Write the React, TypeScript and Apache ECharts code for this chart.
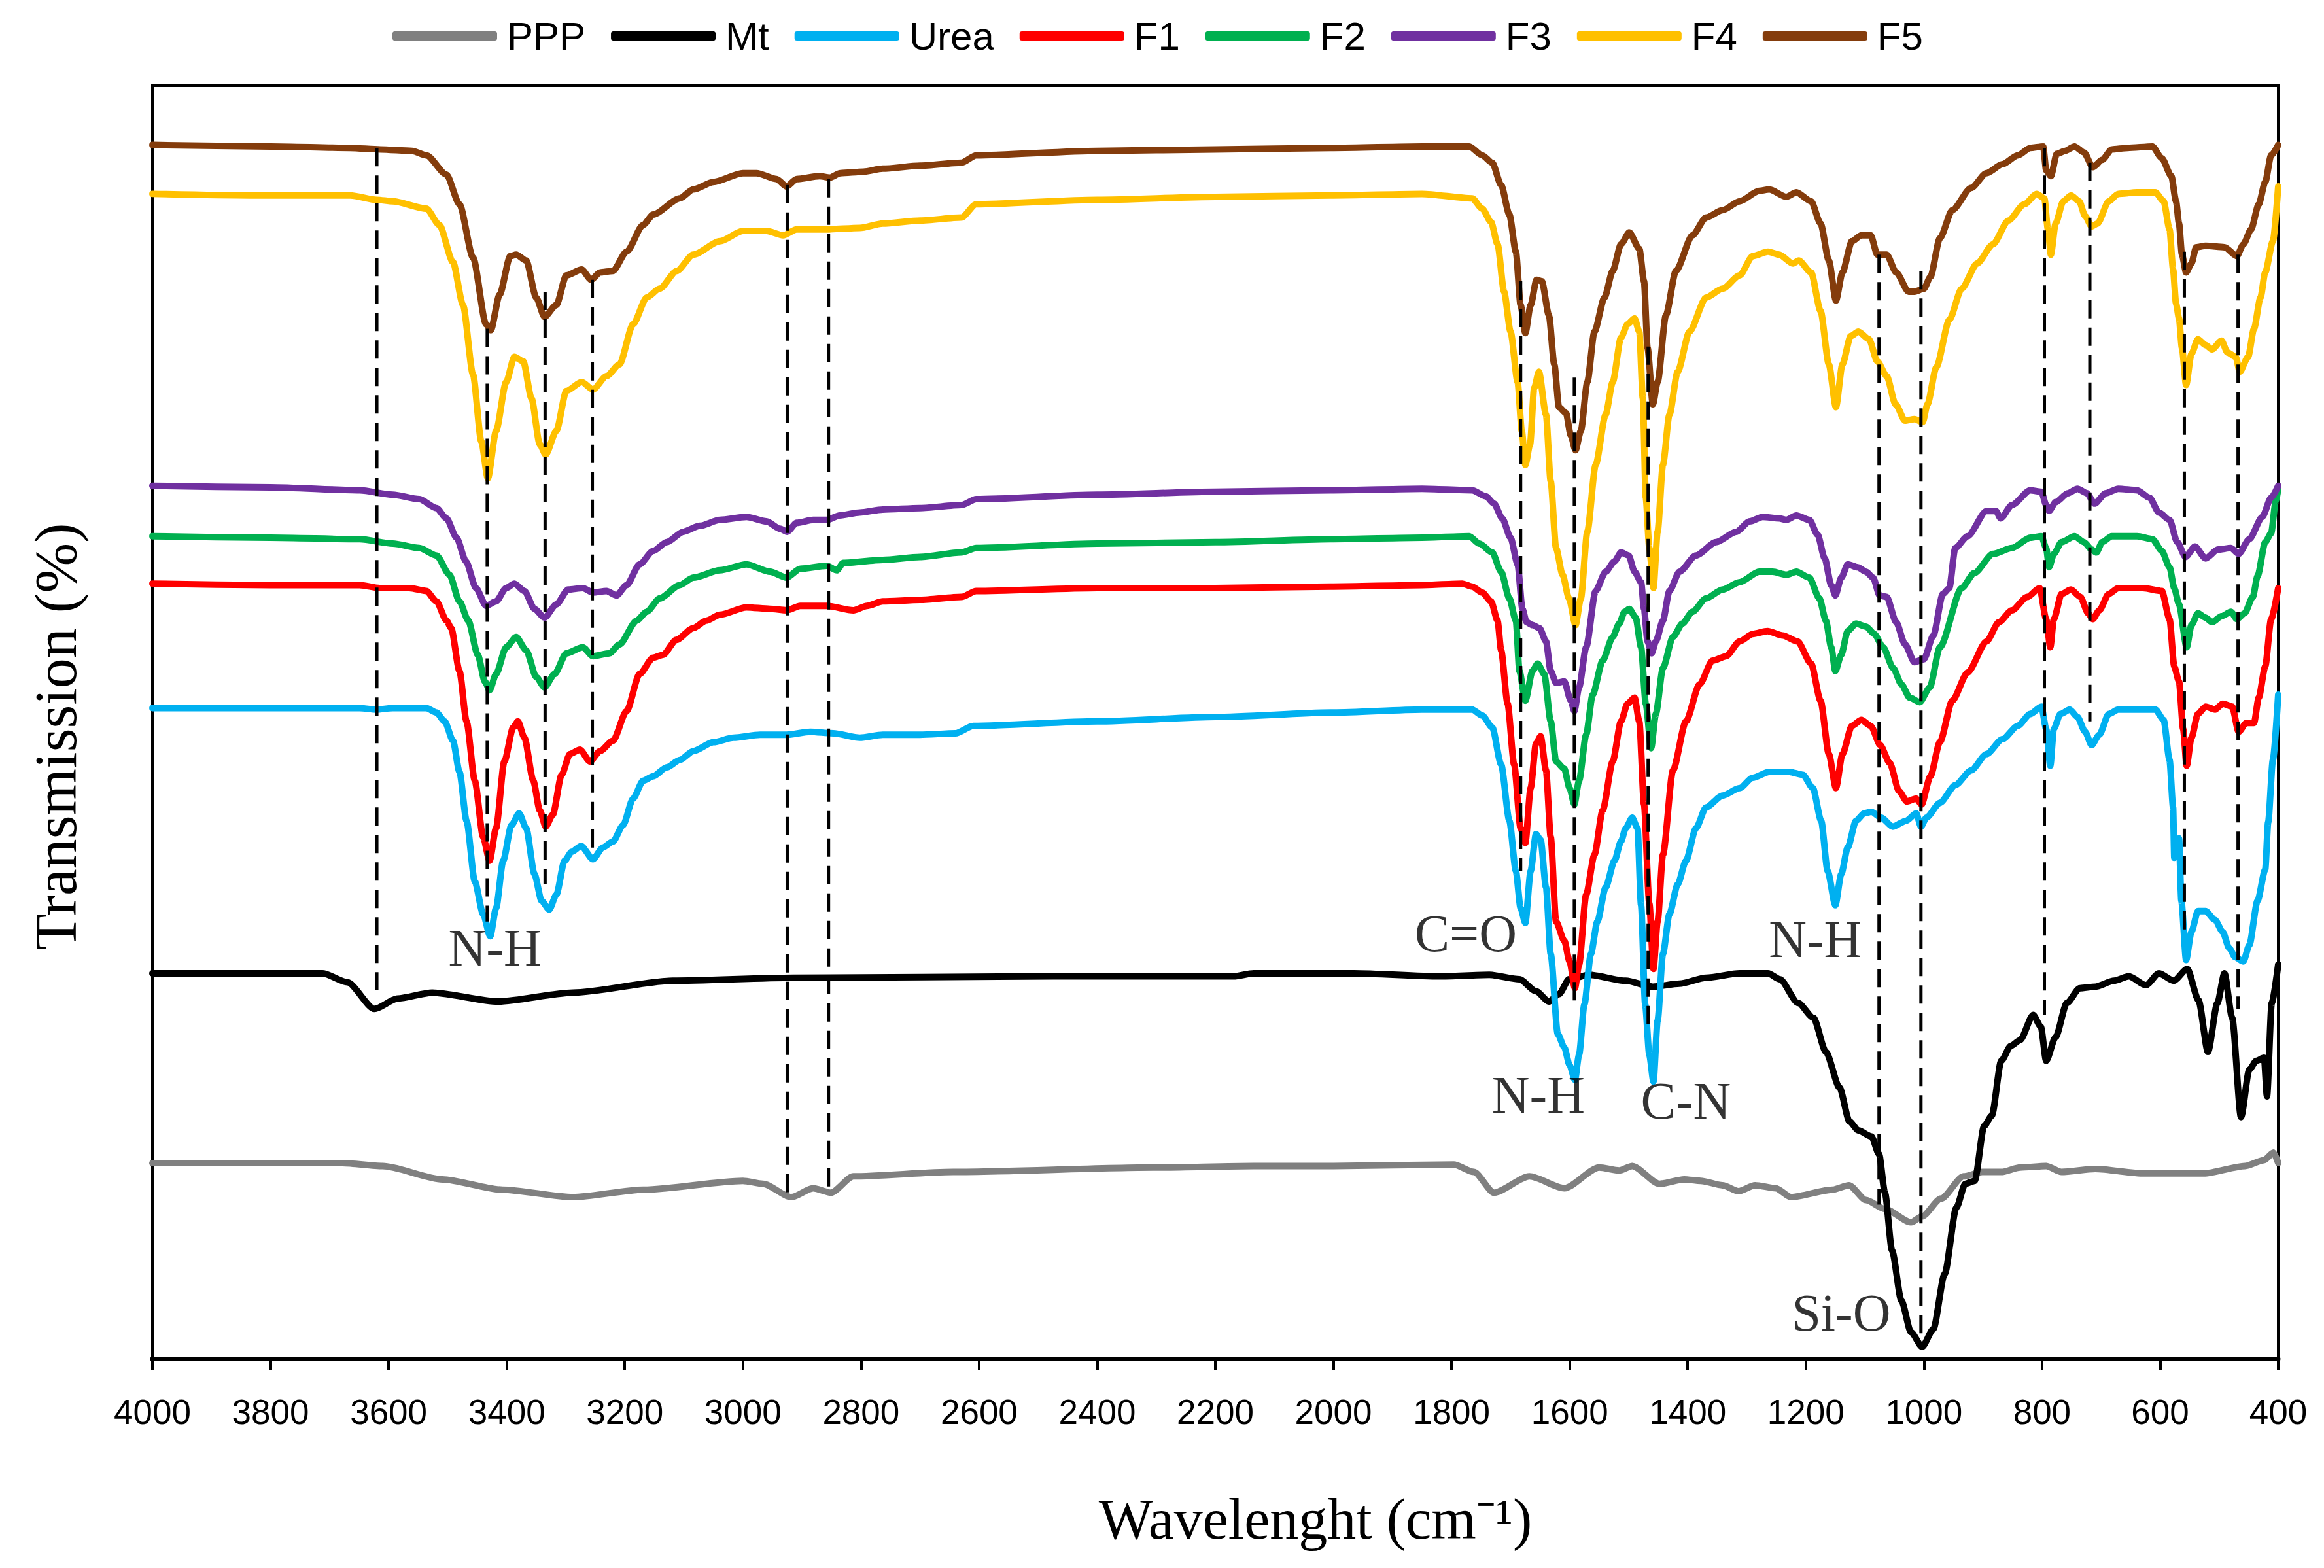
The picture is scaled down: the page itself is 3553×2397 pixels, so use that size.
import React, { useEffect, useRef } from "react";
import * as echarts from "echarts";

// Wavenumber (cm-1) vs relative transmission (arbitrary units, offset stack)
const seriesNames = ["PPP", "Mt", "Urea", "F1", "F2", "F3", "F4", "F5"];
const seriesColors = ["#808080", "#000000", "#00B0F0", "#FF0000", "#00B050", "#7030A0", "#FFC000", "#843C0C"];

const ppp = [[4000,128],[3678,128],[3610,126],[3509,117],[3407,110],[3288,105],[3169,110],[3000,116],[2966,114],[2918,105],[2881,111],[2851,108],[2813,119],[2644,122],[2305,125],[2135,126],[2000,126],[1796,127],[1762,122],[1728,108],[1668,119],[1609,111],[1550,125],[1516,123],[1494,126],[1448,114],[1406,117],[1378,116],[1341,113],[1314,109],[1286,113],[1251,111],[1225,105],[1155,110],[1127,113],[1098,103],[1066,97],[1022,88],[1003,92],[971,104],[933,119],[901,122],[869,122],[837,125],[793,126],[767,122],[710,124],[627,121],[526,121],[456,126],[424,130],[408,135],[400,128]];

const mt = [[4000,256],[3712,256],[3670,250],[3624,232],[3585,239],[3526,243],[3415,237],[3288,243],[3119,251],[2915,253],[2474,254],[2169,254],[2135,256],[1965,256],[1821,254],[1736,255],[1685,252],[1657,244],[1635,237],[1618,242],[1601,252],[1567,255],[1505,251],[1459,247],[1414,249],[1369,253],[1312,256],[1264,256],[1244,252],[1213,236],[1187,226],[1166,203],[1143,179],[1126,156],[1111,150],[1089,146],[1076,134],[1066,108],[1054,69],[1038,35],[1022,14],[1003,4],[984,16],[965,53],[945,98],[930,114],[914,116],[898,153],[885,160],[869,197],[853,207],[837,211],[815,228],[802,220],[793,197],[777,213],[758,236],[736,246],[710,247],[678,251],[653,254],[624,248],[602,256],[577,251],[554,259],[535,238],[519,203],[503,236],[491,256],[478,226],[463,159],[449,191],[437,197],[424,199],[419,173],[411,236],[400,262]];

const urea = [[4000,435],[3800,435],[3649,435],[3621,434],[3593,435],[3536,435],[3519,432],[3505,426],[3491,413],[3480,392],[3468,359],[3454,318],[3440,296],[3428,281],[3418,300],[3406,332],[3392,356],[3379,364],[3367,354],[3353,323],[3341,305],[3328,299],[3316,309],[3302,332],[3290,338],[3274,342],[3254,333],[3237,341],[3220,345],[3203,356],[3186,374],[3169,386],[3152,389],[3129,395],[3107,400],[3084,406],[3050,412],[3016,415],[2971,417],[2926,417],[2886,419],[2847,418],[2802,415],[2763,417],[2700,417],[2640,418],[2610,423],[2400,426],[2200,429],[2000,432],[1850,434],[1765,434],[1748,430],[1731,422],[1716,397],[1702,359],[1691,325],[1683,300],[1675,290],[1666,325],[1657,350],[1649,346],[1640,314],[1632,269],[1620,215],[1609,206],[1600,194],[1591,184],[1584,201],[1575,235],[1564,269],[1553,291],[1539,314],[1524,332],[1513,345],[1505,354],[1494,361],[1485,354],[1479,302],[1472,235],[1465,201],[1458,183],[1451,224],[1442,269],[1431,296],[1417,316],[1403,332],[1386,354],[1369,368],[1341,376],[1312,381],[1290,388],[1262,392],[1228,392],[1205,390],[1188,381],[1174,359],[1163,325],[1150,302],[1140,323],[1129,341],[1115,359],[1101,364],[1089,365],[1072,361],[1053,355],[1030,359],[1013,364],[1005,355],[996,361],[973,371],[947,383],[920,393],[894,404],[867,414],[841,423],[820,431],[801,436],[793,421],[786,396],[780,421],[769,431],[753,434],[740,429],[727,419],[716,410],[703,417],[687,431],[671,434],[639,434],[608,434],[594,427],[584,400],[578,368],[576,334],[568,347],[564,305],[556,265],[547,284],[536,298],[523,298],[507,292],[494,284],[483,273],[473,267],[459,264],[449,275],[435,305],[422,326],[417,358],[409,400],[400,444]];

const f1 = [[4000,519],[3800,518],[3649,518],[3615,516],[3565,516],[3536,514],[3519,507],[3502,494],[3494,489],[3480,460],[3468,426],[3454,386],[3440,348],[3429,332],[3418,354],[3404,399],[3389,422],[3381,426],[3370,415],[3355,386],[3344,366],[3334,355],[3322,363],[3307,390],[3293,404],[3276,407],[3259,399],[3242,406],[3220,413],[3197,433],[3175,458],[3152,469],[3135,471],[3113,481],[3084,489],[3062,494],[3039,498],[2994,503],[2954,502],[2926,501],[2903,504],[2858,504],[2813,501],[2790,504],[2763,507],[2700,508],[2630,510],[2605,514],[2400,516],[2200,516],[2000,517],[1850,518],[1782,519],[1765,517],[1748,513],[1733,507],[1722,494],[1716,474],[1705,438],[1694,397],[1683,354],[1675,344],[1666,381],[1657,411],[1649,416],[1640,393],[1632,348],[1623,291],[1609,278],[1600,264],[1591,246],[1584,262],[1572,309],[1558,336],[1544,366],[1527,399],[1513,426],[1502,438],[1490,442],[1482,426],[1474,370],[1465,303],[1458,259],[1451,291],[1442,336],[1425,393],[1403,426],[1380,451],[1358,467],[1335,470],[1312,480],[1290,485],[1265,487],[1239,484],[1214,480],[1191,465],[1175,440],[1161,404],[1149,381],[1138,404],[1122,423],[1106,427],[1090,423],[1074,410],[1058,398],[1042,379],[1029,372],[1013,374],[1004,370],[989,389],[973,412],[952,440],[926,459],[894,480],[873,493],[851,501],[825,510],[804,516],[793,495],[786,476],[780,495],[767,512],[751,515],[735,510],[722,499],[714,495],[703,501],[687,512],[671,516],[629,516],[597,514],[584,495],[576,463],[568,453],[561,421],[555,396],[547,415],[536,431],[523,436],[507,434],[494,438],[478,436],[467,419],[454,425],[441,425],[433,442],[422,463],[412,495],[400,516]];

const f2 = [[4000,551],[3800,550],[3649,549],[3593,546],[3548,543],[3519,538],[3497,525],[3480,507],[3465,494],[3449,471],[3437,453],[3429,447],[3418,458],[3401,476],[3384,483],[3367,474],[3350,456],[3336,449],[3319,458],[3299,472],[3271,476],[3254,470],[3226,472],[3209,478],[3180,494],[3163,500],[3141,509],[3107,518],[3084,523],[3039,528],[2994,532],[2954,527],[2926,523],[2903,529],[2858,531],[2841,528],[2830,533],[2763,535],[2700,537],[2630,540],[2605,543],[2400,546],[2200,547],[2000,549],[1850,550],[1770,551],[1753,546],[1731,540],[1716,527],[1702,509],[1691,494],[1685,460],[1675,440],[1663,460],[1654,465],[1643,458],[1632,426],[1623,399],[1609,394],[1600,381],[1592,370],[1584,386],[1572,417],[1561,444],[1544,467],[1527,483],[1516,492],[1507,500],[1499,502],[1488,496],[1479,476],[1471,438],[1462,408],[1454,431],[1442,462],[1425,483],[1409,492],[1392,500],[1369,509],[1341,515],[1312,520],[1279,527],[1256,527],[1233,525],[1216,527],[1194,523],[1177,509],[1166,494],[1157,476],[1150,460],[1140,471],[1129,487],[1115,492],[1098,490],[1084,485],[1069,476],[1052,462],[1038,451],[1024,442],[1007,439],[990,449],[973,476],[936,516],[915,526],[883,539],[851,543],[820,550],[801,551],[793,543],[788,530],[780,539],[767,547],[745,551],[729,547],[716,542],[708,540],[698,547],[682,551],[639,551],[613,549],[597,541],[584,530],[576,516],[568,505],[555,476],[547,491],[536,499],[523,496],[512,493],[496,497],[480,500],[470,495],[457,499],[443,510],[435,524],[422,547],[412,553],[404,575],[400,583]];

const f3 = [[4000,585],[3800,584],[3649,582],[3593,579],[3548,576],[3519,570],[3502,563],[3485,550],[3469,534],[3452,516],[3435,504],[3418,507],[3401,516],[3387,519],[3370,514],[3353,502],[3336,496],[3316,505],[3296,515],[3271,516],[3254,513],[3231,514],[3214,511],[3197,518],[3175,532],[3152,541],[3129,547],[3101,554],[3073,558],[3039,562],[2994,564],[2960,561],[2937,556],[2925,554],[2909,560],[2881,562],[2858,562],[2836,565],[2802,567],[2763,569],[2700,570],[2630,572],[2605,576],[2400,579],[2200,581],[2000,582],[1850,583],[1765,582],[1742,578],[1728,573],[1714,563],[1700,550],[1688,532],[1680,502],[1673,493],[1663,491],[1651,489],[1640,480],[1632,460],[1623,452],[1609,453],[1598,440],[1592,433],[1584,449],[1572,476],[1556,514],[1539,527],[1524,534],[1513,540],[1500,538],[1490,527],[1479,520],[1474,502],[1468,480],[1461,472],[1454,480],[1442,494],[1431,514],[1414,527],[1386,538],[1352,547],[1318,554],[1295,561],[1273,564],[1245,563],[1233,562],[1216,565],[1194,562],[1180,552],[1168,536],[1157,518],[1150,511],[1140,523],[1129,532],[1112,530],[1098,527],[1086,523],[1075,511],[1063,510],[1047,493],[1032,478],[1016,466],[1000,468],[984,484],[968,512],[957,516],[947,543],[926,551],[894,568],[878,568],[870,563],[851,572],[820,582],[801,581],[793,572],[788,568],[777,574],[756,580],[740,583],[724,580],[711,573],[692,580],[671,583],[639,582],[618,577],[602,567],[584,562],[571,547],[557,537],[541,544],[523,536],[502,542],[480,543],[467,539],[449,549],[427,564],[412,577],[400,585]];

const f4 = [[4000,782],[3835,781],[3665,781],[3620,778],[3593,777],[3536,772],[3514,761],[3491,736],[3474,707],[3457,660],[3443,615],[3432,590],[3418,622],[3401,655],[3387,672],[3372,669],[3358,644],[3344,613],[3334,606],[3316,622],[3299,649],[3273,655],[3254,650],[3231,659],[3209,667],[3186,694],[3163,712],[3141,718],[3112,730],[3084,741],[3039,750],[3000,757],[2960,757],[2932,754],[2909,758],[2858,758],[2802,759],[2763,762],[2700,764],[2630,766],[2605,775],[2400,778],[2200,780],[2000,781],[1850,782],[1765,779],[1748,772],[1733,763],[1722,748],[1711,716],[1700,689],[1688,655],[1681,622],[1675,599],[1667,613],[1660,651],[1652,662],[1640,633],[1632,588],[1623,543],[1612,525],[1601,509],[1590,491],[1581,509],[1570,554],[1556,599],[1539,633],[1527,655],[1513,685],[1502,694],[1490,698],[1482,689],[1476,644],[1471,577],[1465,543],[1458,516],[1451,554],[1442,599],[1431,633],[1417,662],[1397,689],[1369,712],[1341,718],[1312,727],[1290,740],[1264,743],[1245,741],[1222,735],[1212,737],[1191,729],[1175,703],[1161,667],[1149,638],[1138,667],[1124,686],[1111,689],[1093,684],[1079,669],[1063,659],[1048,640],[1032,629],[1016,630],[1002,628],[994,640],[979,665],[957,697],[936,718],[910,735],[883,748],[857,764],[830,775],[809,782],[796,779],[790,758],[785,741],[777,762],[764,777],[751,781],[737,777],[727,767],[716,760],[706,762],[687,777],[671,782],[639,783],[608,783],[594,777],[584,758],[578,731],[573,708],[568,698],[563,678],[556,653],[547,674],[536,684],[523,680],[512,677],[496,683],[486,675],[472,672],[465,662],[451,672],[441,691],[430,712],[422,729],[409,750],[400,787]];

const f5 = [[4000,815],[3800,814],[3665,813],[3614,812],[3560,811],[3536,808],[3502,795],[3480,775],[3457,739],[3435,694],[3427,690],[3412,714],[3394,740],[3384,741],[3367,737],[3350,712],[3336,699],[3316,707],[3299,727],[3273,731],[3257,724],[3242,729],[3220,730],[3197,743],[3169,761],[3152,768],[3107,779],[3084,785],[3050,790],[3000,796],[2977,796],[2943,792],[2926,787],[2909,792],[2870,794],[2853,793],[2835,796],[2796,797],[2763,799],[2700,801],[2630,803],[2605,808],[2400,811],[2200,812],[2000,813],[1850,814],[1770,814],[1748,808],[1731,803],[1716,788],[1702,768],[1691,743],[1683,707],[1675,688],[1666,707],[1656,724],[1647,723],[1635,700],[1626,667],[1618,638],[1606,634],[1598,619],[1590,609],[1581,622],[1570,655],[1558,689],[1541,712],[1527,730],[1513,748],[1499,756],[1482,745],[1474,723],[1468,678],[1459,640],[1451,655],[1437,700],[1420,730],[1392,754],[1369,766],[1341,771],[1312,777],[1279,784],[1262,785],[1233,780],[1216,783],[1191,777],[1175,762],[1161,737],[1149,710],[1138,729],[1122,750],[1106,754],[1090,754],[1079,741],[1063,741],[1047,729],[1026,716],[1016,716],[1000,718],[989,726],[973,752],[952,771],[920,786],[894,796],[867,802],[841,808],[820,813],[798,814],[793,798],[785,794],[775,809],[761,811],[745,814],[729,810],[714,800],[698,805],[682,812],[655,813],[613,814],[597,806],[581,794],[573,777],[568,762],[563,741],[556,729],[547,735],[539,746],[523,747],[491,746],[470,740],[459,748],[446,758],[433,775],[422,790],[412,808],[400,815]];

// Dashed reference lines: [wavenumber, upper value, lower value]
const guideLines = [[3620,813,245],[3433,691,291],[3335,716,316],[3255,724,336],[2925,788,104],[2855,792,110],[1683,723,325],[1592,658,235],[1467,679,220],[1076,741,100],[1005,730,12],[796,813,228],[719,803,426],[559,743,283],[468,741,232]];

// Band annotations
const bandLabels = ["N-H", "C=O", "N-H", "C-N", "N-H", "Si-O"];
const bandWavenumbers = [3420, 1776, 1653, 1403, 1184, 1140];
const bandValues = [273, 283, 174, 170, 279, 27];

const xTicks = { min: 400, max: 4000, step: 200 };

const allData = [ppp, mt, urea, f1, f2, f3, f4, f5];

export default function App() {
  const ref = useRef<HTMLDivElement>(null);
  useEffect(() => {
    if (!ref.current) return;
    const chart = echarts.init(ref.current, undefined, { renderer: "svg" });
    const lineSeries: any[] = seriesNames.map((name, i) => ({
      type: "line",
      name,
      data: allData[i],
      showSymbol: false,
      symbol: "none",
      smooth: 0.25,
      smoothMonotone: "x",
      lineStyle: { width: 10, color: seriesColors[i], join: "round", cap: "round" },
      itemStyle: { color: seriesColors[i] },
      z: 2 + i * 0.01,
    }));
    const dashSeries: any[] = guideLines.map((g, i) => ({
      type: "line",
      name: "guide" + i,
      data: [[g[0], g[1]], [g[0], g[2]]],
      showSymbol: false,
      symbol: "none",
      lineStyle: { width: 5, color: "#000", type: [28, 14] },
      z: 5,
      silent: true,
    }));
    const labelSeries: any = {
      type: "scatter",
      name: "bands",
      symbolSize: 0,
      data: bandLabels.map((t, i) => ({ value: [bandWavenumbers[i], bandValues[i]], name: t })),
      label: {
        show: true,
        position: "inside",
        formatter: (p: any) => p.name,
        fontFamily: "Liberation Serif",
        fontSize: 80,
        color: "#000",
      },
      z: 6,
      silent: true,
    };
    chart.setOption({
      animation: false,
      backgroundColor: "#fff",
      grid: { left: 233, right: 70, top: 131, bottom: 320, show: true, borderColor: "#000", borderWidth: 4, backgroundColor: "transparent" },
      legend: {
        data: seriesNames,
        left: 595,
        top: 20,
        itemWidth: 160,
        itemHeight: 14,
        itemGap: 39,
        icon: "roundRect",
        textStyle: { fontFamily: "Liberation Sans", fontSize: 60, color: "#000", padding: [0, 0, 0, 10] },
      },
      xAxis: {
        type: "value",
        min: xTicks.min,
        max: xTicks.max,
        interval: xTicks.step,
        inverse: true,
        axisLine: { show: true, onZero: false, lineStyle: { color: "#000", width: 7 } },
        axisTick: { show: true, inside: false, length: 17, lineStyle: { color: "#000", width: 4 } },
        axisLabel: { fontFamily: "Liberation Sans", fontSize: 53, color: "#000", margin: 55, showMinLabel: true, showMaxLabel: true, formatter: (v: number) => String(v) },
        splitLine: { show: false },
      },
      yAxis: {
        type: "value",
        min: -4,
        max: 855,
        axisLine: { show: true, onZero: false, lineStyle: { color: "#000", width: 5 } },
        axisTick: { show: false },
        axisLabel: { show: false },
        splitLine: { show: false },
      },
      graphic: [
        {
          type: "text",
          x: 85,
          y: 1126,
          rotation: Math.PI / 2,
          style: { text: "Transmission (%)", font: "92px 'Liberation Serif'", fill: "#000", textAlign: "center", textVerticalAlign: "middle" },
        },
        {
          type: "text",
          x: 2011,
          y: 2322,
          style: { text: "Wavelenght (cm\u207B\u00B9)", font: "88px 'Liberation Serif'", fill: "#000", textAlign: "center", textVerticalAlign: "middle" },
        },
      ],
      series: [...lineSeries, ...dashSeries, labelSeries],
    });
    return () => chart.dispose();
  }, []);
  return <div ref={ref} style={{ position: "absolute", left: 0, top: 0, width: 3553, height: 2397, background: "#fff" }} />;
}
